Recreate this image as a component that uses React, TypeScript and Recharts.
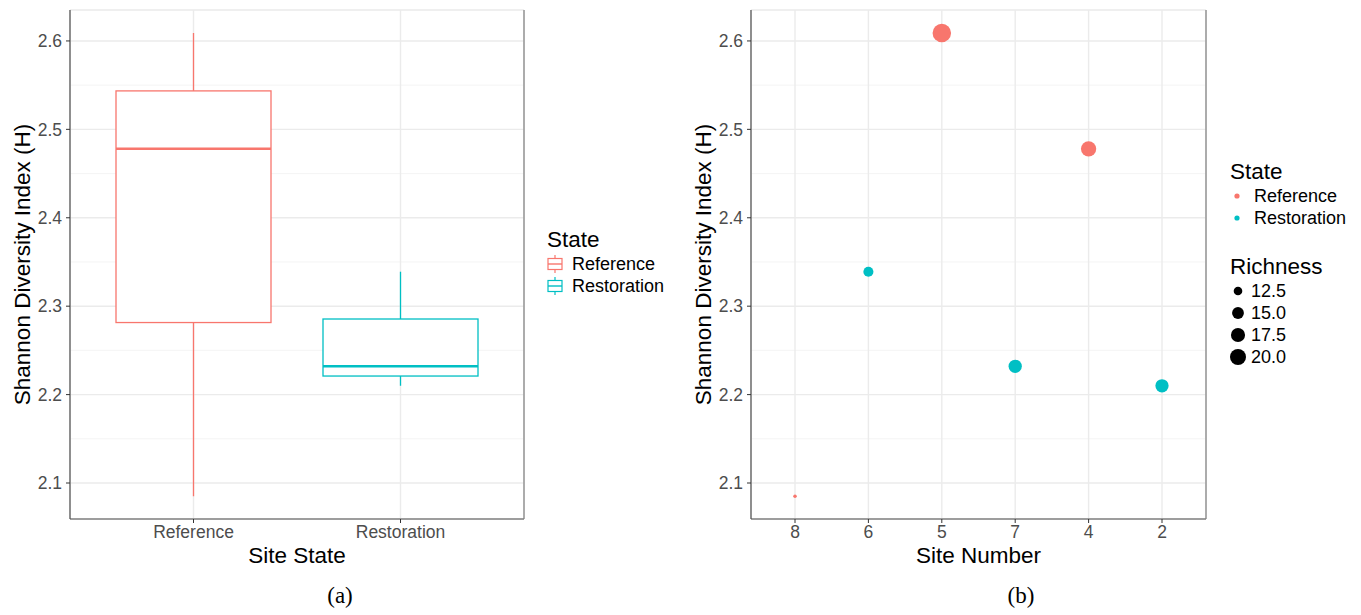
import React from "react";
import { ComposedChart, Bar, Scatter, XAxis, YAxis, CartesianGrid } from "recharts";

// site data, in the order shown on panel (b)
const siteOrder = ["8", "6", "5", "7", "4", "2"];
const siteState = ["Reference", "Restoration", "Reference", "Restoration", "Reference", "Restoration"];
const siteShannon = [2.085, 2.339, 2.609, 2.232, 2.478, 2.21];
const siteRichness = [11, 13.5, 24, 16.5, 19, 16.5];

const states = ["Reference", "Restoration"];
const stateColors = ["#F8766D", "#00BFC4"];

const yTicks = [2.1, 2.2, 2.3, 2.4, 2.5, 2.6];
const yMinorTicks = [2.15, 2.25, 2.35, 2.45, 2.55];
const yDomain = [2.0593, 2.635];
const richnessBreaks = [12.5, 15, 17.5, 20];

const FONT = "'Liberation Sans', Arial, sans-serif";
const TICK = { fontSize: 17.5, fill: "#4D4D4D" };
const TITLE = { fontSize: 22.5, fill: "#000" };
const GRID = "#EBEBEB";
const MINOR = "#F3F3F3";

const colorOf = (s: string) => stateColors[states.indexOf(s)];

// type 7 quantile, as used by ggplot's stat_boxplot
function quantile(sorted: number[], p: number) {
  const h = (sorted.length - 1) * p;
  const lo = Math.floor(h);
  const hi = Math.ceil(h);
  return sorted[lo] + (h - lo) * (sorted[hi] - sorted[lo]);
}

const boxData = states.map((s) => {
  const v = siteShannon.filter((_, i) => siteState[i] === s).sort((a, b) => a - b);
  return {
    state: s,
    range: [v[0], v[v.length - 1]],
    q1: quantile(v, 0.25),
    median: quantile(v, 0.5),
    q3: quantile(v, 0.75),
  };
});

const pointData = siteOrder.map((site, i) => ({
  site,
  state: siteState[i],
  h: siteShannon[i],
  richness: siteRichness[i],
}));

// area-style size scale (diameter 3.5..18.5 px)
const rMin = Math.min(...siteRichness);
const rMax = Math.max(...siteRichness);
const radius = (r: number) => (3.5 + 15 * Math.sqrt((r - rMin) / (rMax - rMin))) / 2;

const BoxShape = (props: any) => {
  const { x, y, width, height, payload } = props;
  const [lo, hi] = payload.range;
  const top = Math.min(y, y + height);
  const h = Math.abs(height);
  const py = (v: number) => top + ((hi - v) / (hi - lo)) * h;
  const cx = x + width / 2;
  const c = colorOf(payload.state);
  return (
    <g>
      <line x1={cx} x2={cx} y1={py(hi)} y2={py(lo)} stroke={c} strokeWidth={1.3} />
      <rect x={x} y={py(payload.q3)} width={width} height={py(payload.q1) - py(payload.q3)} fill="#fff" stroke={c} strokeWidth={1.3} />
      <line x1={x} x2={x + width} y1={py(payload.median)} y2={py(payload.median)} stroke={c} strokeWidth={2.4} />
    </g>
  );
};

const PointShape = (props: any) => {
  const { cx, cy, payload } = props;
  return <circle cx={cx} cy={cy} r={radius(payload.richness)} fill={colorOf(payload.state)} />;
};

function axes(xKey: string, xTitle: string, pad: number) {
  return [
    <XAxis
      key="x"
      dataKey={xKey}
      type="category"
      allowDuplicatedCategory={false}
      padding={{ left: pad, right: pad }}
      height={50}
      tick={TICK}
      tickSize={4}
      tickMargin={3}
      tickLine={{ stroke: "#333" }}
      axisLine={{ stroke: "#4D4D4D", strokeWidth: 1.2 }}
      label={{ value: xTitle, position: "insideBottom", offset: 6, style: TITLE }}
    />,
    <YAxis
      key="y"
      dataKey="h"
      type="number"
      domain={yDomain}
      ticks={yTicks}
      allowDataOverflow
      width={70}
      tick={TICK}
      tickSize={4}
      tickMargin={4}
      tickFormatter={(v: number) => v.toFixed(1)}
      tickLine={{ stroke: "#333" }}
      axisLine={{ stroke: "#4D4D4D", strokeWidth: 1.2 }}
      label={{
        value: "Shannon Diversity Index (H)",
        angle: -90,
        position: "insideLeft",
        offset: 22,
        style: { ...TITLE, textAnchor: "middle" },
      }}
    />,
    <YAxis key="m" yAxisId="minor" type="number" domain={yDomain} ticks={yMinorTicks} allowDataOverflow hide />,
    <YAxis
      key="r"
      yAxisId="r"
      orientation="right"
      type="number"
      domain={yDomain}
      width={1}
      tick={false}
      tickLine={false}
      axisLine={{ stroke: "#7F7F7F", strokeWidth: 1.2 }}
    />,
    <CartesianGrid key="gm" yAxisId="minor" vertical={false} stroke={MINOR} strokeWidth={0.9} />,
    <CartesianGrid key="gM" stroke={GRID} strokeWidth={1.4} />,
  ];
}

const BoxKey = ({ color }: { color: string }) => (
  <svg width={16} height={18} style={{ display: "block" }}>
    <line x1={8} x2={8} y1={0} y2={18} stroke={color} strokeWidth={1.2} />
    <rect x={1} y={3.5} width={14} height={11} fill="#fff" stroke={color} strokeWidth={1.2} />
    <line x1={1} x2={15} y1={9} y2={9} stroke={color} strokeWidth={1.4} />
  </svg>
);

const row = { display: "flex", alignItems: "center", height: 22, lineHeight: "22px", fontSize: 18 } as const;
const title = { height: 26, lineHeight: "26px", fontSize: 22.5 } as const;

export default function App() {
  return (
    <div style={{ position: "absolute", left: 0, top: 0, width: 1361, height: 615, background: "#fff", fontFamily: FONT }}>
      <div style={{ position: "absolute", left: 0, top: 0 }}>
        <ComposedChart width={531} height={600} data={boxData} margin={{ top: 10, right: 6, bottom: 31, left: 0 }}>
          {axes("state", "Site State", 20)}
          <Bar dataKey="range" barSize={155} shape={(p: any) => <BoxShape {...p} />} isAnimationActive={false} />
        </ComposedChart>
      </div>

      <div style={{ position: "absolute", left: 547, top: 227 }}>
        <div style={title}>State</div>
        {states.map((s, i) => (
          <div key={s} style={row}>
            <BoxKey color={stateColors[i]} />
            <span style={{ marginLeft: 9 }}>{s}</span>
          </div>
        ))}
      </div>

      <div style={{ position: "absolute", left: 681, top: 0 }}>
        <ComposedChart width={531} height={600} margin={{ top: 10, right: 5, bottom: 31, left: 0 }}>
          {axes("site", "Site Number", 44)}
          <Scatter data={pointData} dataKey="h" shape={(p: any) => <PointShape {...p} />} isAnimationActive={false} />
        </ComposedChart>
      </div>

      <div style={{ position: "absolute", left: 1230, top: 159 }}>
        <div style={title}>State</div>
        {states.map((s, i) => (
          <div key={s} style={row}>
            <svg width={19} height={22} style={{ display: "block" }}>
              <circle cx={7} cy={11} r={2.6} fill={stateColors[i]} />
            </svg>
            <span style={{ marginLeft: 5 }}>{s}</span>
          </div>
        ))}
        <div style={{ ...title, marginTop: 25 }}>Richness</div>
        {richnessBreaks.map((b) => (
          <div key={b} style={row}>
            <svg width={19} height={22} style={{ display: "block" }}>
              <circle cx={8} cy={11} r={radius(b)} fill="#000" />
            </svg>
            <span style={{ marginLeft: 2 }}>{b.toFixed(1)}</span>
          </div>
        ))}
      </div>

      <div style={{ position: "absolute", left: 300, top: 583, width: 80, textAlign: "center", fontFamily: "'Liberation Serif', serif", fontSize: 23 }}>(a)</div>
      <div style={{ position: "absolute", left: 981, top: 583, width: 80, textAlign: "center", fontFamily: "'Liberation Serif', serif", fontSize: 23 }}>(b)</div>
    </div>
  );
}
